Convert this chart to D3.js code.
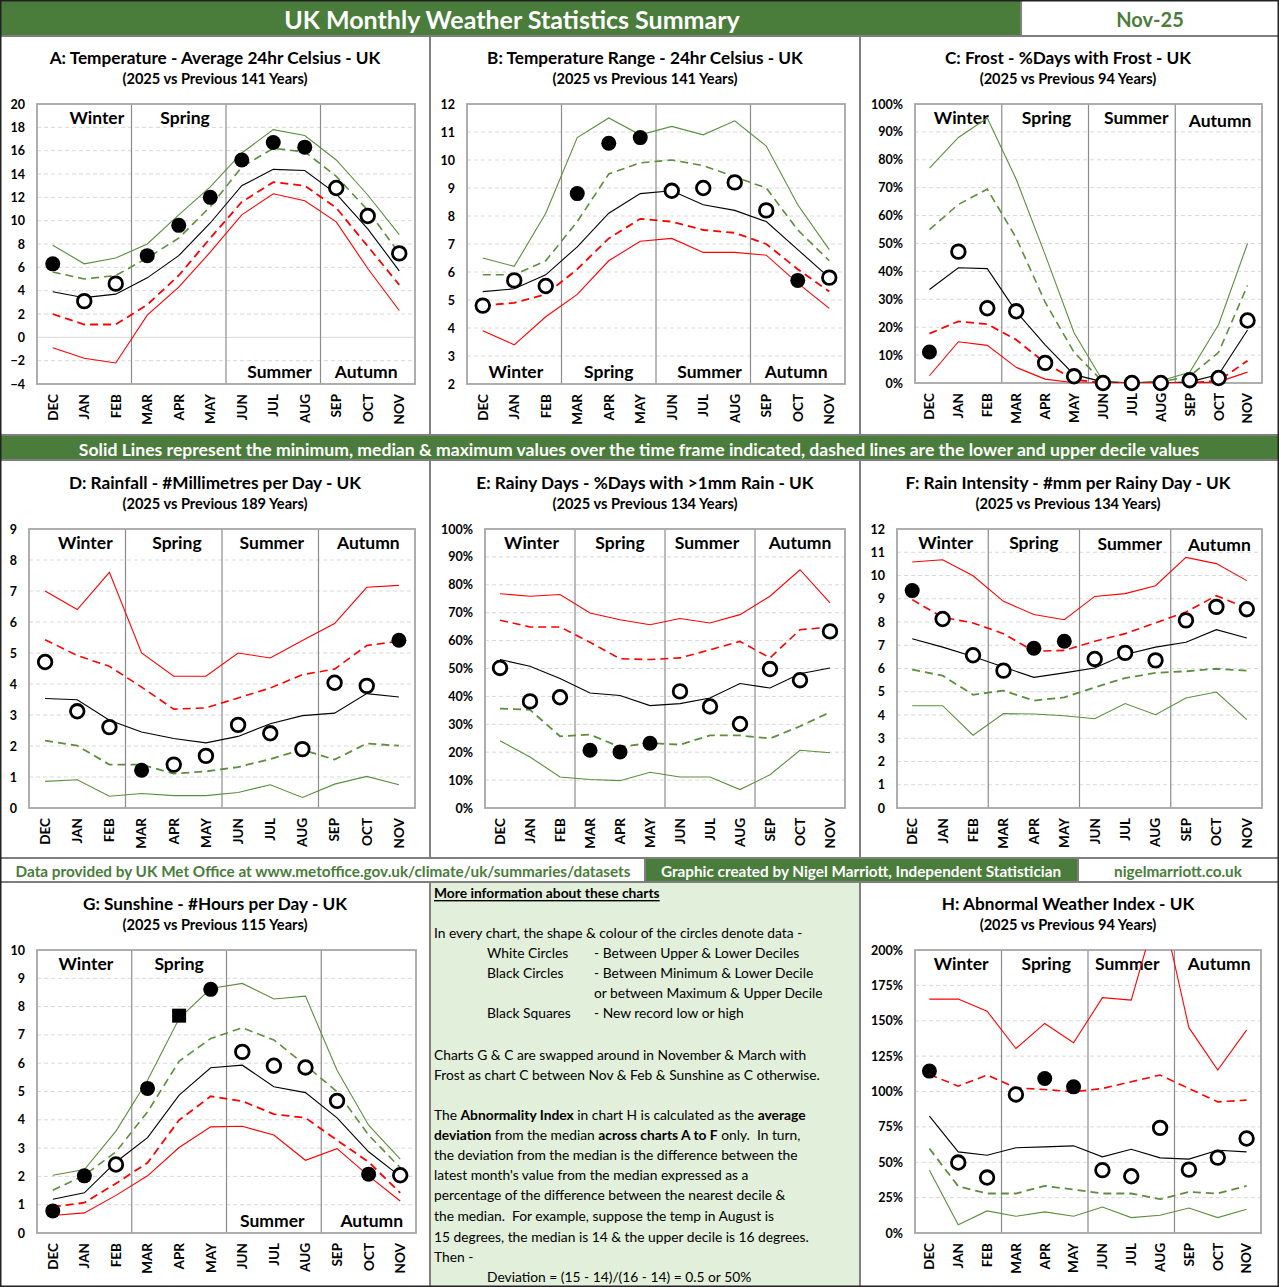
<!DOCTYPE html>
<html>
<head>
<meta charset="utf-8">
<script src="https://cdn.jsdelivr.net/npm/d3@7"></script>
<style>
body { margin: 0; background: #fff; }
svg { display: block; font-family: Lato, "Open Sans", sans-serif; }
text { white-space: pre; }
</style>
</head>
<body>
<svg id="chart" width="1279" height="1287"></svg>
<script>
var months = ["DEC", "JAN", "FEB", "MAR", "APR", "MAY", "JUN", "JUL", "AUG", "SEP", "OCT", "NOV"];
var seasons = ["Winter", "Spring", "Summer", "Autumn"];

// A: temperature
var tempMax    = [7.9, 6.3, 6.8, 8.0, 10.5, 12.9, 15.8, 17.8, 17.3, 15.2, 12.2, 8.8];
var tempUpDec  = [5.6, 5.0, 5.3, 6.8, 8.5, 11.2, 14.6, 16.2, 15.9, 13.8, 10.9, 7.2];
var tempMed    = [3.9, 3.4, 3.7, 5.1, 7.0, 9.8, 13.0, 14.4, 14.3, 12.3, 9.3, 5.7];
var tempLowDec = [2.0, 1.1, 1.1, 2.8, 5.3, 8.5, 11.6, 13.3, 13.0, 11.1, 7.8, 4.5];
var tempMin    = [-0.9, -1.8, -2.2, 1.9, 4.3, 7.3, 10.5, 12.3, 11.7, 9.9, 5.9, 2.3];
var temp2025   = [6.3, 3.1, 4.6, 7.0, 9.6, 12.0, 15.2, 16.7, 16.3, 12.8, 10.4, 7.2];
var tempMarks  = ["b", "w", "w", "b", "b", "b", "b", "b", "b", "w", "w", "w"];

// B: temperature range
var rangeMax    = [6.5, 6.2, 8.1, 10.8, 11.5, 10.9, 11.2, 10.9, 11.4, 10.5, 8.4, 6.8];
var rangeUpDec  = [5.9, 5.9, 6.4, 7.8, 9.5, 9.9, 10.0, 9.8, 9.4, 9.0, 7.5, 6.4];
var rangeMed    = [5.3, 5.4, 5.9, 6.9, 8.1, 8.8, 8.9, 8.4, 8.2, 7.8, 6.8, 5.8];
var rangeLowDec = [4.8, 4.9, 5.2, 6.1, 7.2, 7.9, 7.8, 7.5, 7.4, 7.0, 6.1, 5.3];
var rangeMin    = [3.9, 3.4, 4.4, 5.2, 6.4, 7.1, 7.2, 6.7, 6.7, 6.6, 5.6, 4.7];
var range2025   = [4.8, 5.7, 5.5, 8.8, 10.6, 10.8, 8.9, 9.0, 9.2, 8.2, 5.7, 5.8];
var rangeMarks  = ["w", "w", "w", "b", "b", "b", "w", "w", "w", "w", "b", "w"];

// C: frost (% days)
var frostMax    = [77, 88, 95, 73, 46, 18, 0.6, 0, 0.8, 3.8, 21, 50];
var frostUpDec  = [55, 64, 69.5, 52, 29, 11, 0.4, 0, 0.4, 2.4, 11, 35];
var frostMed    = [33.5, 41.3, 41, 25.6, 13.7, 3, 0.4, 0, 0, 0.4, 3, 19];
var frostLowDec = [17.7, 22.1, 21.1, 15.5, 7.2, 1.2, 0, 0, 0, 0, 0.8, 8];
var frostMin    = [2.6, 14.8, 13.5, 5.6, 1.4, 0.1, 0, 0, 0, 0, 0.4, 3.9];
var frost2025   = [11.1, 47.1, 26.8, 25.7, 7.2, 2.4, 0, 0, 0, 1, 1.8, 22.4];
var frostMarks  = ["b", "w", "w", "w", "w", "w", "w", "w", "w", "w", "w", "w"];

// D: rainfall mm per day
var rainMax    = [7.0, 6.4, 7.6, 5.0, 4.25, 4.25, 5.0, 4.84, 5.4, 5.95, 7.12, 7.18];
var rainUpDec  = [5.43, 4.92, 4.57, 3.9, 3.19, 3.23, 3.55, 3.87, 4.3, 4.48, 5.24, 5.38];
var rainMed    = [3.53, 3.49, 2.83, 2.45, 2.24, 2.1, 2.31, 2.72, 2.98, 3.06, 3.69, 3.58];
var rainLowDec = [2.17, 2.01, 1.4, 1.4, 1.11, 1.18, 1.32, 1.58, 1.88, 1.56, 2.08, 2.01];
var rainMin    = [0.86, 0.91, 0.38, 0.47, 0.4, 0.4, 0.5, 0.75, 0.34, 0.77, 1.02, 0.75];
var rain2025   = [4.71, 3.12, 2.61, 1.22, 1.4, 1.68, 2.68, 2.41, 1.9, 4.04, 3.94, 5.41];
var rainMarks  = ["w", "w", "w", "b", "w", "w", "w", "w", "w", "w", "w", "b"];

// E: rainy days (% days > 1mm)
var rdMax    = [76.8, 75.9, 76.5, 69.9, 67.5, 65.7, 67.9, 66.3, 69.3, 75.9, 85.4, 73.5];
var rdUpDec  = [67.3, 64.9, 64.9, 59.4, 53.5, 53.2, 53.8, 56.7, 59.7, 53.8, 63.9, 64.8];
var rdMed    = [53.2, 50.8, 46.4, 41.2, 40.3, 36.7, 37.4, 39.4, 44.6, 43.0, 48.1, 50.2];
var rdLowDec = [35.6, 35.2, 25.7, 26.3, 21.9, 23.3, 22.7, 26.0, 26.0, 24.9, 29.3, 34.3];
var rdMin    = [24.1, 18.3, 11.1, 10.2, 9.8, 12.8, 11.1, 11.1, 6.6, 11.9, 20.7, 19.8];
var rd2025   = [50.2, 38.2, 39.7, 20.7, 20.1, 23.2, 41.8, 36.4, 30.1, 49.8, 45.8, 63.3];
var rdMarks  = ["w", "w", "w", "b", "b", "b", "w", "w", "w", "w", "w", "w"];

// F: rain intensity mm per rainy day
var intMax    = [10.58, 10.68, 9.99, 8.89, 8.32, 8.1, 9.1, 9.22, 9.56, 10.78, 10.51, 9.78];
var intUpDec  = [8.96, 8.2, 7.96, 7.5, 6.74, 6.78, 7.17, 7.5, 7.96, 8.43, 9.13, 8.6];
var intMed    = [7.28, 6.92, 6.52, 6.06, 5.62, 5.81, 6.02, 6.6, 6.92, 7.13, 7.67, 7.31];
var intLowDec = [5.95, 5.69, 4.87, 5.05, 4.62, 4.76, 5.19, 5.59, 5.81, 5.88, 5.99, 5.91];
var intMin    = [4.4, 4.4, 3.13, 4.06, 4.04, 3.97, 3.84, 4.49, 4.01, 4.73, 4.99, 3.8];
var int2025   = [9.35, 8.13, 6.57, 5.91, 6.87, 7.17, 6.41, 6.67, 6.35, 8.07, 8.65, 8.55];
var intMarks  = ["b", "w", "w", "w", "b", "b", "w", "w", "w", "w", "w", "w"];

// G: sunshine hours per day
var sunMax    = [2.04, 2.24, 3.6, 5.4, 7.58, 8.64, 8.82, 8.27, 8.37, 5.75, 3.81, 2.61];
var sunUpDec  = [1.51, 2.04, 2.87, 4.28, 6.07, 6.87, 7.25, 6.82, 5.93, 4.99, 3.46, 2.31];
var sunMed    = [1.19, 1.42, 2.51, 3.37, 4.87, 5.84, 5.93, 5.17, 4.96, 4.07, 2.87, 2.0];
var sunLowDec = [0.92, 1.07, 1.75, 2.48, 3.99, 4.83, 4.66, 4.2, 4.07, 3.28, 2.51, 1.42];
var sunMin    = [0.62, 0.71, 1.33, 2.02, 3.02, 3.75, 3.77, 3.46, 2.57, 2.98, 2.02, 1.13];
var sun2025   = [0.78, 2.02, 2.42, 5.11, 7.68, 8.61, 6.4, 5.91, 5.85, 4.67, 2.08, 2.04];
var sunMarks  = ["b", "b", "w", "b", "s", "b", "w", "w", "w", "w", "b", "w"];

// H: abnormal weather index (%)
var abnMax    = [165.3, 165.3, 156.8, 130.4, 148.1, 134.4, 166.3, 164.6, 236, 145.1, 115.1, 143.4];
var abnUpDec  = [112.0, 103.8, 111.6, 102.6, 101.4, 99.8, 102.1, 106.9, 111.6, 102.1, 92.7, 93.9];
var abnMed    = [82.6, 57.3, 55.0, 60.2, 60.9, 61.6, 53.8, 59.2, 53.1, 52.2, 58.5, 57.3];
var abnLowDec = [59.7, 33.0, 27.9, 27.9, 33.3, 30.7, 27.9, 27.9, 23.9, 29.0, 27.9, 33.3];
var abnMin    = [44.4, 5.9, 15.6, 11.8, 14.9, 11.8, 18.4, 10.9, 12.5, 17.7, 10.9, 16.8];
var abn2025   = [114.4, 49.8, 39.2, 97.9, 109.2, 103.3, 44.4, 40.1, 74.3, 44.8, 53.3, 66.8];
var abnMarks  = ["b", "w", "w", "w", "b", "b", "w", "w", "w", "w", "w", "w"];

var GREEN = "#4a7c3b";
var LINE_GREEN = "#5b8f3c";
var RED = "#ff0000";

var svg = d3.select("#chart");

// ---------- frame: title bar, banner, footer ----------
svg.append("rect").attr("x", 0).attr("y", 0).attr("width", 1279).attr("height", 1287).attr("fill", "#fff");

svg.append("rect").attr("x", 0).attr("y", 0).attr("width", 1021).attr("height", 36).attr("fill", GREEN);
svg.append("text").attr("x", 512).attr("y", 19).attr("text-anchor", "middle").attr("dominant-baseline", "central")
    .attr("fill", "#fff").attr("font-weight", "bold").attr("font-size", 25).text("UK Monthly Weather Statistics Summary");
svg.append("text").attr("x", 1150).attr("y", 19).attr("text-anchor", "middle").attr("dominant-baseline", "central")
    .attr("fill", GREEN).attr("font-weight", "bold").attr("font-size", 20).text("Nov-25");

svg.append("rect").attr("x", 0).attr("y", 436).attr("width", 1279).attr("height", 24).attr("fill", GREEN);
svg.append("text").attr("x", 639).attr("y", 449).attr("text-anchor", "middle").attr("dominant-baseline", "central")
    .attr("fill", "#fff").attr("font-weight", "bold").attr("font-size", 17.6)
    .text("Solid Lines represent the minimum, median & maximum values over the time frame indicated, dashed lines are the lower and upper decile values");

svg.append("rect").attr("x", 645).attr("y", 859).attr("width", 433).attr("height", 23).attr("fill", GREEN);
svg.append("text").attr("x", 323).attr("y", 871).attr("text-anchor", "middle").attr("dominant-baseline", "central")
    .attr("fill", GREEN).attr("font-weight", "bold").attr("font-size", 15.3)
    .text("Data provided by UK Met Office at www.metoffice.gov.uk/climate/uk/summaries/datasets");
svg.append("text").attr("x", 861).attr("y", 871).attr("text-anchor", "middle").attr("dominant-baseline", "central")
    .attr("fill", "#fff").attr("font-weight", "bold").attr("font-size", 15.3)
    .text("Graphic created by Nigel Marriott, Independent Statistician");
svg.append("text").attr("x", 1178).attr("y", 871).attr("text-anchor", "middle").attr("dominant-baseline", "central")
    .attr("fill", GREEN).attr("font-weight", "bold").attr("font-size", 15.3).text("nigelmarriott.co.uk");

// info panel background
svg.append("rect").attr("x", 430).attr("y", 882).attr("width", 430).attr("height", 405).attr("fill", "#e2efda");

// cell borders
var cellLines = [
    [0, 36, 1279, 36], [0, 435, 1279, 435], [0, 460, 1279, 460], [0, 858, 1279, 858], [0, 882, 1279, 882],
    [430, 36, 430, 435], [860, 36, 860, 435], [430, 460, 430, 858], [860, 460, 860, 858],
    [430, 882, 430, 1287], [860, 882, 860, 1287], [645, 858, 645, 882], [1078, 858, 1078, 882], [1021, 0, 1021, 36]
];
svg.selectAll("line.cell").data(cellLines).enter().append("line").attr("class", "cell")
    .attr("x1", function (d) { return d[0]; }).attr("y1", function (d) { return d[1]; })
    .attr("x2", function (d) { return d[2]; }).attr("y2", function (d) { return d[3]; })
    .attr("stroke", "#7f7f7f").attr("stroke-width", 2);
svg.append("rect").attr("x", 0.75).attr("y", 0.75).attr("width", 1277.5).attr("height", 1285.5)
    .attr("fill", "none").attr("stroke", "#222").attr("stroke-width", 1.5);

// ---------- info text ----------
var info = svg.append("g").attr("font-size", 13.8).attr("fill", "#000");
function infoLine(x, y, parts) {
    var t = info.append("text").attr("x", x).attr("y", y).attr("dominant-baseline", "central");
    parts.forEach(function (p) {
        var s = t.append("tspan").text(p[0]);
        if (p[1]) s.attr("font-weight", "bold");
    });
    return t;
}
infoLine(434, 892, [["More information about these charts", true]]).attr("text-decoration", "underline");
infoLine(434, 932, [["In every chart, the shape & colour of the circles denote data -"]]);
infoLine(487, 952, [["White Circles"]]);
infoLine(594, 952, [["- Between Upper & Lower Deciles"]]);
infoLine(487, 972, [["Black Circles"]]);
infoLine(594, 972, [["- Between Minimum & Lower Decile"]]);
infoLine(594, 992, [["or between Maximum & Upper Decile"]]);
infoLine(487, 1012, [["Black Squares"]]);
infoLine(594, 1012, [["- New record low or high"]]);
infoLine(434, 1054, [["Charts G & C are swapped around in November & March with"]]);
infoLine(434, 1074, [["Frost as chart C between Nov & Feb & Sunshine as C otherwise."]]);
infoLine(434, 1114, [["The "], ["Abnormality Index", true], [" in chart H is calculated as the "], ["average", true]]);
infoLine(434, 1134, [["deviation", true], [" from the median "], ["across charts A to F", true], [" only.  In turn,"]]);
infoLine(434, 1154, [["the deviation from the median is the difference between the"]]);
infoLine(434, 1174, [["latest month's value from the median expressed as a"]]);
infoLine(434, 1194, [["percentage of the difference between the nearest decile &"]]);
infoLine(434, 1215, [["the median.  For example, suppose the temp in August is"]]);
infoLine(434, 1236, [["15 degrees, the median is 14 & the upper decile is 16 degrees."]]);
infoLine(434, 1256, [["Then -"]]);
infoLine(487, 1276, [["Deviation = (15 - 14)/(16 - 14) = 0.5 or 50%"]]);

// ---------- charts ----------
var charts = [
    { id: "A", title: "A: Temperature - Average 24hr Celsius - UK", sub: "(2025 vs Previous 141 Years)",
      cx: 215, ty: 57, box: [37, 415, 104, 384], dom: [-4, 20], step: 2, pct: false,
      series: [tempMax, tempUpDec, tempMed, tempLowDec, tempMin], now: temp2025, marks: tempMarks,
      up: LINE_GREEN, low: RED, side: ["t", "t", "b", "b"], sx: [1.4, 4.2, 7.2, 9.95] },
    { id: "B", title: "B: Temperature Range - 24hr Celsius - UK", sub: "(2025 vs Previous 141 Years)",
      cx: 645, ty: 57, box: [467, 845, 104, 384], dom: [2, 12], step: 1, pct: false,
      series: [rangeMax, rangeUpDec, rangeMed, rangeLowDec, rangeMin], now: range2025, marks: rangeMarks,
      up: LINE_GREEN, low: RED, side: ["b", "b", "b", "b"], sx: [1.05, 4.0, 7.2, 9.95] },
    { id: "C", title: "C: Frost - %Days with Frost - UK", sub: "(2025 vs Previous 94 Years)",
      cx: 1068, ty: 57, box: [915, 1262, 104, 383], dom: [0, 100], step: 10, pct: true,
      series: [frostMax, frostUpDec, frostMed, frostLowDec, frostMin], now: frost2025, marks: frostMarks,
      up: LINE_GREEN, low: RED, side: ["t", "t", "t", "t"], sx: [1.1, 4.05, 7.15, 10.05], sy: [0, 0, 0, 3] },
    { id: "D", title: "D: Rainfall - #Millimetres per Day - UK", sub: "(2025 vs Previous 189 Years)",
      cx: 215, ty: 482, box: [29, 415, 529, 808], dom: [0, 9], step: 1, pct: false,
      series: [rainMax, rainUpDec, rainMed, rainLowDec, rainMin], now: rain2025, marks: rainMarks,
      up: RED, low: LINE_GREEN, side: ["t", "t", "t", "t"], sx: [1.25, 4.1, 7.05, 10.05] },
    { id: "E", title: "E: Rainy Days - %Days with >1mm Rain - UK", sub: "(2025 vs Previous 134 Years)",
      cx: 645, ty: 482, box: [485, 845, 529, 808], dom: [0, 100], step: 10, pct: true,
      series: [rdMax, rdUpDec, rdMed, rdLowDec, rdMin], now: rd2025, marks: rdMarks,
      up: RED, low: LINE_GREEN, side: ["t", "t", "t", "t"], sx: [1.05, 4.0, 6.9, 10.0] },
    { id: "F", title: "F: Rain Intensity - #mm per Rainy Day - UK", sub: "(2025 vs Previous 134 Years)",
      cx: 1068, ty: 482, box: [897, 1262, 529, 808], dom: [0, 12], step: 1, pct: false,
      series: [intMax, intUpDec, intMed, intLowDec, intMin], now: int2025, marks: intMarks,
      up: RED, low: LINE_GREEN, side: ["t", "t", "t", "t"], sx: [1.1, 4.0, 7.15, 10.1], sy: [0, 0, 1, 2] },
    { id: "G", title: "G: Sunshine - #Hours per Day - UK", sub: "(2025 vs Previous 115 Years)",
      cx: 215, ty: 903, box: [37, 416, 950, 1233], dom: [0, 10], step: 1, pct: false,
      series: [sunMax, sunUpDec, sunMed, sunLowDec, sunMin], now: sun2025, marks: sunMarks,
      up: LINE_GREEN, low: RED, side: ["t", "t", "b", "b"], sx: [1.05, 4.0, 6.95, 10.1] },
    { id: "H", title: "H: Abnormal Weather Index - UK", sub: "(2025 vs Previous 94 Years)",
      cx: 1068, ty: 903, box: [915, 1261, 950, 1233], dom: [0, 200], step: 25, pct: true,
      series: [abnMax, abnUpDec, abnMed, abnLowDec, abnMin], now: abn2025, marks: abnMarks,
      up: RED, low: LINE_GREEN, side: ["t", "t", "t", "t"], sx: [1.1, 4.05, 6.86, 10.05] }
];

charts.forEach(function (c) {
    var left = c.box[0], right = c.box[1], top = c.box[2], bottom = c.box[3];
    var g = svg.append("g");

    var x = d3.scaleBand().domain(months).range([left, right]);
    var y = d3.scaleLinear().domain(c.dom).range([bottom, top]);
    var cxm = function (i) { return x(months[i]) + x.bandwidth() / 2; };
    var ticks = d3.range(c.dom[0], c.dom[1] + c.step / 2, c.step);

    g.append("text").attr("x", c.cx).attr("y", c.ty).attr("text-anchor", "middle").attr("dominant-baseline", "central")
        .attr("font-weight", "bold").attr("font-size", 17.2).text(c.title);
    g.append("text").attr("x", c.cx).attr("y", c.ty + 21).attr("text-anchor", "middle").attr("dominant-baseline", "central")
        .attr("font-weight", "bold").attr("font-size", 14.6).text(c.sub);

    // gridlines
    g.selectAll("line.grid").data(ticks.slice(1, -1)).enter().append("line").attr("class", "grid")
        .attr("x1", left).attr("x2", right)
        .attr("y1", function (d) { return y(d); }).attr("y2", function (d) { return y(d); })
        .attr("stroke", "#d9d9d9").attr("stroke-width", 1)
        .attr("stroke-dasharray", function (d) { return d === 0 ? null : "4,3"; });

    // season dividers
    g.selectAll("line.season").data([3, 6, 9]).enter().append("line").attr("class", "season")
        .attr("x1", function (d) { return x(months[d]); }).attr("x2", function (d) { return x(months[d]); })
        .attr("y1", top).attr("y2", bottom).attr("stroke", "#8c8c8c").attr("stroke-width", 1.2);

    g.append("rect").attr("x", left).attr("y", top).attr("width", right - left).attr("height", bottom - top)
        .attr("fill", "none").attr("stroke", "#a6a6a6").attr("stroke-width", 1.8);

    // axes
    var fmt = c.pct ? function (d) { return d + "%"; } : d3.format("d");
    var ya = g.append("g").attr("transform", "translate(" + left + ",0)")
        .call(d3.axisLeft(y).tickValues(ticks).tickSize(0).tickPadding(12).tickFormat(fmt));
    ya.select(".domain").remove();
    ya.selectAll("text").attr("font-family", "Lato, sans-serif").attr("font-size", 12.5).attr("font-weight", "bold").attr("fill", "#000");

    var xa = g.append("g").attr("transform", "translate(0," + bottom + ")")
        .call(d3.axisBottom(x).tickSize(0));
    xa.select(".domain").remove();
    xa.selectAll("text").attr("transform", "rotate(-90)").attr("x", -10).attr("y", 0).attr("dy", "0.36em")
        .attr("text-anchor", "end").attr("font-family", "Lato, sans-serif").attr("font-size", 13.5)
        .attr("font-weight", "bold").attr("fill", "#000");

    // season labels
    seasons.forEach(function (s, i) {
        var sy = c.side[i] === "t" ? top + 13 : bottom - 13;
        if (c.sy) sy += c.sy[i];
        g.append("text").attr("x", left + (c.sx[i] + 0.5) * x.bandwidth()).attr("y", sy)
            .attr("text-anchor", "middle").attr("dominant-baseline", "central")
            .attr("font-weight", "bold").attr("font-size", 17.5).text(s);
    });

    // lines
    var clipId = "clip" + c.id;
    svg.append("clipPath").attr("id", clipId).append("rect")
        .attr("x", left).attr("y", top).attr("width", right - left).attr("height", bottom - top);
    var line = d3.line().x(function (d, i) { return cxm(i); }).y(function (d) { return y(d); });
    var styles = [
        { color: c.up, w: 1.1, dash: null },
        { color: c.up, w: 1.6, dash: "8,5" },
        { color: "#000", w: 1.1, dash: null },
        { color: c.low, w: 1.8, dash: "8,5" },
        { color: c.low, w: 1.1, dash: null }
    ];
    var lg = g.append("g").attr("clip-path", "url(#" + clipId + ")");
    c.series.forEach(function (s, k) {
        lg.append("path").attr("d", line(s)).attr("fill", "none")
            .attr("stroke", styles[k].color).attr("stroke-width", styles[k].w)
            .attr("stroke-dasharray", styles[k].dash);
    });

    // 2025 markers
    c.now.forEach(function (v, i) {
        var m = c.marks[i];
        if (m === "s") {
            g.append("rect").attr("x", cxm(i) - 7).attr("y", y(v) - 7).attr("width", 14).attr("height", 14).attr("fill", "#000");
        } else if (m === "b") {
            g.append("circle").attr("cx", cxm(i)).attr("cy", y(v)).attr("r", 7.5).attr("fill", "#000");
        } else {
            g.append("circle").attr("cx", cxm(i)).attr("cy", y(v)).attr("r", 6.8)
                .attr("fill", "#fff").attr("stroke", "#000").attr("stroke-width", 2.8);
        }
    });
});
</script>
</body>
</html>
